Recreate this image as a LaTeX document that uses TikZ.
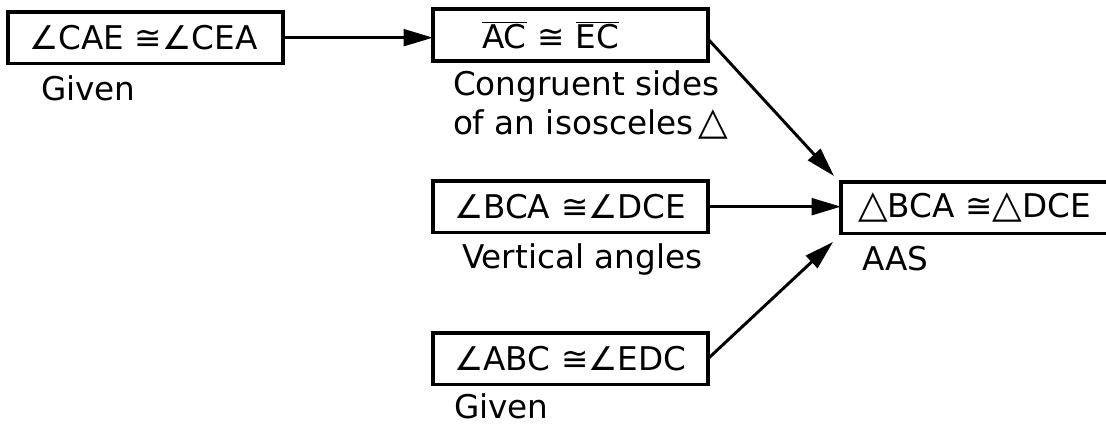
\documentclass[tikz,border=0pt]{standalone}
\usepackage{fontspec}
\setmainfont{DejaVu Sans}
\usetikzlibrary{arrows.meta}
\newcommand\segm[1]{$\overline{\mbox{#1}}$}
\newcommand\trig{\scalebox{1.18}{△}}
\begin{document}
\begin{tikzpicture}[x=0.75pt,y=-0.75pt,
  every node/.style={font=\fontsize{24.5}{30}\selectfont, inner ysep=0pt, outer sep=0pt},
  stmt/.style={draw, line width=2.4pt, minimum height=38.5pt, anchor=north west, align=left, inner xsep=15.75pt},
  lab/.style={anchor=base west, inner xsep=0pt},
  conn/.style={line width=2.2pt, -{Triangle[length=22pt,width=12.5pt]}}]
\clip (0,0) rectangle (1106,425);
\fill[white] (0,0) rectangle (1106,425);
% statements
\node[stmt, text width=174.75pt] (b1) at (8,12) {∠CAE ≅∠CEA};
\node[stmt, text width=176.25pt, inner xsep=15pt, minimum height=39pt] (b2) at (433,9) {\hspace*{21.75pt}\segm{AC} ≅ \segm{EC}};
\node[stmt, text width=174.75pt] (b3) at (433,181) {∠BCA ≅∠DCE};
\node[stmt, text width=174.75pt] (b4) at (433,333) {∠ABC ≅∠EDC};
\node[stmt, text width=190pt, inner xsep=12.75pt] (b5) at (841,182) {\trig BCA ≅\trig DCE};
% reasons
\node[lab] (r1) at (41,100) {Given};
\node[lab] (r2a) at (453,95) {Congruent sides};
\node[lab] (r2b) at (453,134) {of an isosceles\,\trig};
\node[lab] (r3) at (462,268) {Vertical angles};
\node[lab] (r4) at (454,418) {Given};
\node[lab] (r5) at (862,270) {AAS};
% arrow ends
\coordinate (t1) at (834,176);
\coordinate (t2) at (833,242);
% connectors
\draw[conn] (b1.east) -- (b1.east -| b2.west);
\draw[conn] ([yshift=-3pt]b2.east) -- (t1);
\draw[conn] (b3.east) -- (b3.east -| b5.west);
\draw[conn] (b4.east) -- (t2);
\end{tikzpicture}
\end{document}
